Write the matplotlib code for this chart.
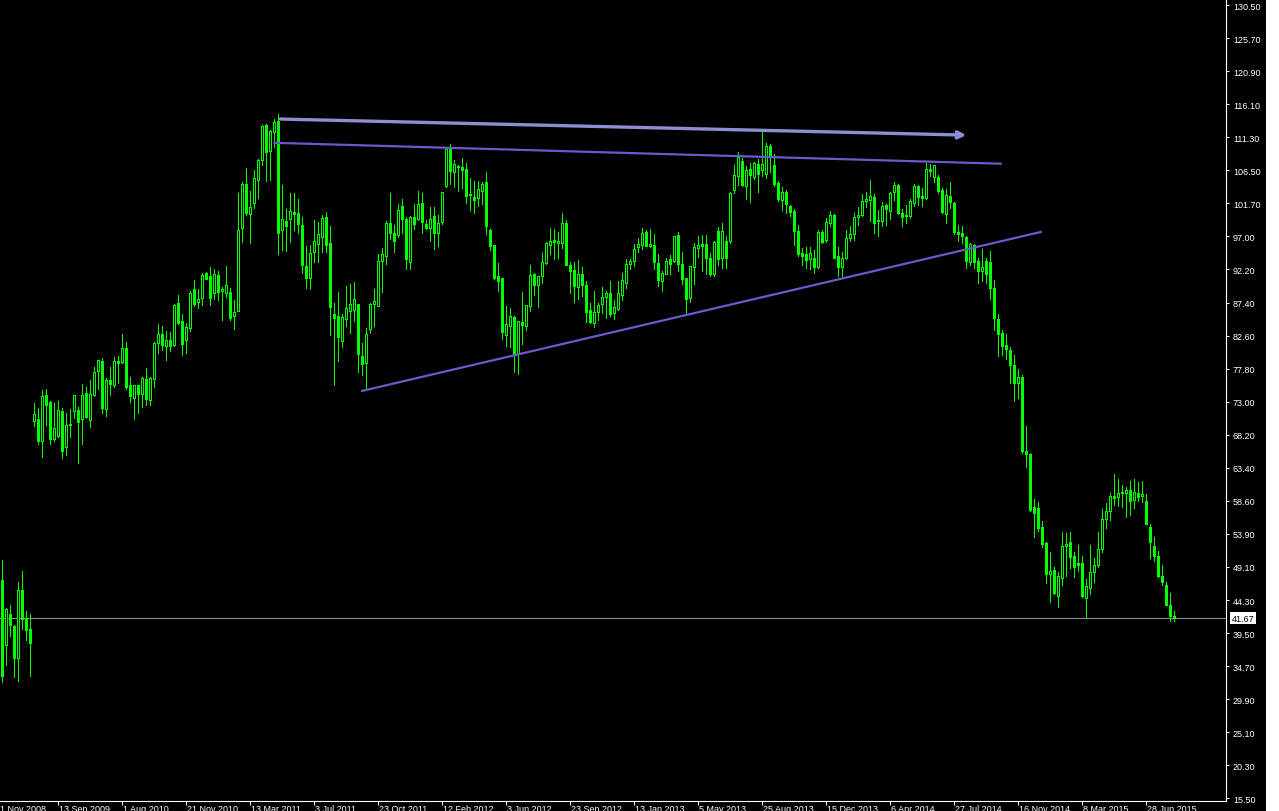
import matplotlib
matplotlib.use("Agg")
import matplotlib.pyplot as plt
from matplotlib.patches import Rectangle
import numpy as np

plt.rcParams['font.family'] = ['Liberation Sans', 'DejaVu Sans']

# ---------------- data (weekly OHLC) ----------------
opens = [47.1, 37.7, 42.3, 40.5, 35.8, 45.7, 41.6, 40.0,
 70.2, 70.5, 67.3, 73.9, 72.9, 67.6, 68.0, 71.6, 66.4, 69.6, 71.6, 71.8,
 70.5, 74.2, 70.3, 73.9, 77.4, 78.9, 71.9, 76.1, 75.4, 78.9,
 78.7, 80.8, 75.4, 73.6, 75.4, 74.1, 76.3, 73.2, 76.3, 81.5,
 82.8, 81.1, 81.9, 81.2, 87.3, 84.7, 81.9, 83.7, 89.3, 87.4,
 88.0, 91.6, 91.2, 88.7, 91.3, 89.0, 88.7, 88.9, 85.4, 86.1,
 98.2, 104.5, 100.2, 101.8, 105.1, 108.0, 113.1, 109.3, 112.1, 113.7,
 97.9, 99.2, 99.5, 100.5, 100.3, 98.6, 92.7, 90.9, 94.7, 95.8,
 96.9, 99.8, 96.0, 85.7, 85.4, 81.8, 85.0, 86.1, 86.3, 87.1,
 79.6, 78.6, 83.5, 87.1, 86.9, 93.4, 94.1, 98.9, 97.4, 97.1,
 101.3, 99.5, 93.2, 99.8, 99.5, 101.8, 98.7, 98.2, 99.9, 97.4,
 99.0, 104.3, 109.6, 106.3, 107.2, 107.0, 106.7, 102.9, 102.7, 102.5,
 103.5, 104.8, 97.9, 95.7, 91.2, 90.9, 82.6, 84.0, 85.3, 79.9,
 84.5, 84.0, 86.9, 91.5, 89.9, 91.2, 93.1, 95.7, 96.4, 96.0,
 96.0, 98.9, 92.8, 92.1, 89.6, 91.5, 89.9, 86.3, 84.4, 86.0,
 87.1, 88.2, 88.7, 85.8, 86.4, 88.4, 90.2, 93.0, 93.4, 95.4,
 95.7, 97.6, 95.6, 95.7, 93.1, 90.5, 91.5, 93.7, 93.4, 97.1,
 93.0, 90.9, 88.0, 92.5, 95.3, 95.8, 95.8, 93.8, 91.5, 97.7,
 93.8, 96.3, 96.3, 103.7, 105.7, 107.9, 104.3, 106.7, 105.6, 107.4,
 106.6, 106.0, 110.1, 107.3, 104.7, 102.2, 103.4, 101.3, 100.6, 97.7,
 94.5, 94.4, 93.7, 93.9, 92.5, 97.6, 96.4, 98.9, 100.1, 94.1,
 92.5, 93.8, 96.7, 97.3, 99.8, 100.1, 102.1, 102.2, 102.7, 99.3,
 99.2, 101.5, 100.6, 103.4, 104.4, 100.3, 99.9, 99.9, 101.8, 104.3,
 102.8, 102.5, 106.7, 105.6, 105.6, 103.7, 100.2, 102.8, 101.8, 97.6,
 97.4, 96.9, 93.2, 95.7, 93.4, 91.9, 93.4, 93.2, 89.5, 85.0,
 82.9, 81.2, 80.5, 78.3, 75.7, 76.6, 65.8, 65.4, 57.7, 57.6,
 54.8, 52.5, 48.0, 48.6, 44.9, 47.4, 52.1, 52.6, 50.7, 49.6,
 49.6, 44.5, 46.0, 48.3, 49.3, 51.6, 56.0, 57.1, 59.3, 59.2,
 59.7, 59.7, 60.2, 58.7, 59.7, 59.3, 58.6, 54.8, 52.1, 50.6,
 47.8, 46.5, 43.5, 42.0]

closes = [33.2, 42.9, 40.6, 35.8, 45.7, 41.5, 39.9, 38.0,
 71.2, 67.3, 73.8, 72.5, 67.6, 69.2, 71.8, 65.8, 69.6, 69.7, 73.9, 70.0,
 73.9, 70.8, 74.1, 77.3, 79.0, 72.1, 76.1, 75.5, 78.9, 78.6,
 80.8, 75.2, 73.8, 75.4, 74.1, 76.4, 73.4, 76.4, 81.5, 82.8,
 81.2, 81.9, 81.1, 87.0, 84.4, 81.4, 83.8, 88.7, 87.1, 87.9,
 91.3, 90.8, 88.0, 91.5, 88.9, 89.3, 89.9, 85.1, 86.0, 97.9,
 104.5, 100.3, 101.2, 105.4, 108.0, 113.0, 109.2, 112.2, 113.5, 97.4,
 99.5, 98.5, 100.6, 100.2, 98.7, 92.8, 90.9, 94.5, 96.3, 97.3,
 99.6, 95.7, 86.7, 85.1, 82.4, 85.3, 86.6, 87.1, 87.9, 79.9,
 78.4, 82.8, 87.1, 87.6, 93.4, 94.4, 98.9, 97.4, 96.3, 100.8,
 99.5, 93.7, 99.8, 98.7, 101.6, 99.0, 98.2, 99.5, 97.4, 98.9,
 103.4, 109.6, 106.4, 107.4, 107.0, 106.6, 102.8, 103.1, 102.2, 103.8,
 104.5, 98.5, 95.6, 90.9, 90.5, 83.1, 84.2, 85.4, 79.9, 84.7,
 84.1, 87.0, 91.3, 89.9, 91.2, 93.2, 96.0, 96.3, 96.1, 96.3,
 98.9, 92.8, 91.9, 89.8, 91.5, 89.9, 86.0, 84.5, 86.0, 87.0,
 88.2, 88.7, 85.7, 86.7, 88.7, 90.6, 93.0, 93.4, 95.1, 95.8,
 97.4, 95.6, 95.8, 93.2, 90.6, 91.6, 93.4, 93.0, 97.0, 93.0,
 90.8, 87.9, 92.6, 95.4, 95.7, 95.6, 93.8, 91.5, 96.1, 93.7,
 97.7, 93.8, 103.2, 105.8, 108.5, 104.4, 106.6, 105.8, 107.6, 106.0,
 107.4, 110.1, 108.6, 104.5, 102.4, 103.4, 101.6, 100.5, 97.7, 94.4,
 94.1, 93.5, 94.5, 92.5, 97.6, 96.1, 99.0, 100.1, 93.9, 92.5,
 93.9, 96.7, 97.3, 99.8, 100.1, 102.1, 102.4, 102.8, 98.9, 99.2,
 101.3, 100.9, 103.2, 104.4, 100.3, 99.8, 100.1, 102.1, 104.3, 102.7,
 102.5, 106.7, 106.4, 107.3, 103.5, 100.5, 103.0, 101.9, 97.6, 97.3,
 97.0, 93.4, 95.8, 93.2, 91.9, 92.5, 91.5, 89.5, 85.1, 82.8,
 81.1, 80.6, 78.3, 75.7, 76.6, 65.8, 65.4, 57.3, 56.8, 54.7,
 52.4, 48.0, 48.4, 45.2, 47.7, 52.1, 52.4, 50.5, 49.1, 49.3,
 44.9, 46.3, 48.3, 49.3, 51.6, 56.0, 57.1, 59.3, 59.0, 59.7,
 59.9, 60.2, 58.6, 59.9, 59.2, 59.6, 55.3, 52.6, 50.7, 47.8,
 46.8, 43.6, 41.9, 41.67]

highs = [50.0, 43.1, 43.5, 40.7, 46.8, 48.4, 42.6, 42.3,
 72.8, 72.1, 74.7, 74.8, 73.1, 72.8, 73.1, 72.1, 71.3, 71.9, 73.9, 72.3,
 75.5, 75.2, 76.1, 78.0, 79.0, 79.3, 76.4, 78.0, 79.5, 79.6,
 82.8, 81.6, 76.6, 75.4, 75.4, 76.6, 77.9, 76.6, 81.6, 84.2,
 84.0, 83.2, 83.1, 87.1, 88.4, 85.7, 84.4, 89.0, 90.6, 89.3,
 91.6, 91.8, 92.5, 92.2, 91.9, 89.6, 92.6, 89.5, 87.7, 103.2,
 104.8, 106.9, 103.5, 106.6, 108.2, 113.1, 113.2, 112.4, 114.0, 114.7,
 104.4, 100.9, 103.2, 103.2, 102.4, 99.8, 95.5, 95.7, 99.3, 99.0,
 100.0, 100.5, 98.5, 87.3, 88.9, 85.7, 89.8, 90.0, 90.3, 87.1,
 81.5, 83.7, 87.3, 89.3, 94.4, 95.3, 99.2, 103.2, 98.6, 101.6,
 102.4, 99.8, 99.9, 101.6, 103.5, 103.2, 99.3, 101.2, 101.2, 100.0,
 103.4, 109.6, 110.3, 108.0, 107.3, 108.3, 107.6, 105.4, 105.0, 105.0,
 104.8, 106.3, 98.0, 95.7, 93.1, 90.9, 86.9, 86.6, 85.4, 84.7,
 88.9, 87.0, 92.8, 91.6, 91.2, 94.5, 96.1, 98.2, 98.0, 97.6,
 100.3, 99.3, 93.2, 93.2, 93.5, 92.5, 90.5, 87.3, 89.0, 87.3,
 89.6, 89.0, 90.5, 87.7, 90.5, 91.6, 93.7, 93.7, 95.8, 96.7,
 98.2, 97.9, 98.0, 97.3, 94.4, 91.9, 93.8, 94.2, 97.0, 97.6,
 94.7, 90.9, 92.6, 96.0, 97.0, 97.1, 97.1, 94.5, 96.3, 98.3,
 98.9, 97.0, 103.4, 107.3, 109.2, 108.3, 107.2, 107.6, 107.7, 108.2,
 112.1, 110.5, 110.3, 108.9, 105.0, 104.1, 103.7, 101.5, 100.9, 98.6,
 95.3, 95.4, 95.4, 95.0, 97.9, 97.9, 99.6, 100.6, 100.2, 95.4,
 94.7, 97.9, 98.5, 100.3, 101.2, 103.1, 103.4, 105.1, 103.1, 100.8,
 101.9, 101.6, 103.4, 104.8, 104.5, 100.9, 101.5, 102.4, 104.5, 104.4,
 104.0, 107.6, 107.4, 107.3, 105.8, 104.0, 103.8, 104.8, 101.9, 98.6,
 98.5, 97.0, 96.0, 95.8, 93.8, 95.1, 93.8, 94.8, 90.6, 85.7,
 83.4, 82.8, 80.9, 79.7, 77.7, 76.8, 69.5, 65.5, 58.9, 58.4,
 55.7, 52.6, 51.2, 49.0, 48.3, 54.1, 53.9, 54.1, 51.2, 52.3,
 50.7, 47.3, 52.3, 50.3, 54.1, 57.4, 58.3, 59.7, 62.5, 61.8,
 60.9, 60.6, 61.5, 61.8, 61.3, 61.5, 59.6, 55.3, 53.4, 51.3,
 49.4, 46.8, 45.2, 42.6]

lows = [32.3, 34.9, 39.1, 33.1, 32.5, 40.0, 38.4, 33.3,
 69.5, 66.8, 65.0, 69.6, 66.8, 67.3, 67.9, 64.8, 65.3, 67.9, 70.6, 64.1,
 66.8, 70.6, 69.3, 73.8, 74.9, 71.3, 70.9, 73.9, 75.2, 75.7,
 78.6, 74.9, 72.9, 70.5, 71.3, 72.3, 72.5, 72.5, 75.2, 80.0,
 80.5, 79.0, 80.3, 81.1, 84.2, 79.7, 80.0, 83.2, 86.9, 86.6,
 87.0, 90.8, 87.0, 87.9, 87.7, 84.8, 88.2, 84.8, 83.5, 86.1,
 96.1, 100.0, 96.0, 101.1, 102.5, 107.3, 105.0, 105.1, 109.9, 94.4,
 95.0, 94.8, 96.1, 97.9, 97.4, 91.6, 89.5, 89.3, 93.2, 93.2,
 94.7, 94.7, 82.7, 75.4, 78.9, 80.9, 84.0, 82.9, 84.7, 77.3,
 76.8, 74.7, 82.9, 84.0, 86.9, 88.9, 93.0, 96.6, 94.7, 96.9,
 97.4, 92.2, 92.2, 98.0, 99.3, 97.4, 98.0, 96.3, 95.1, 95.6,
 98.7, 104.1, 104.5, 104.1, 103.5, 104.0, 101.8, 100.8, 100.3, 101.4,
 101.6, 97.3, 95.0, 90.8, 89.0, 82.1, 81.1, 80.9, 77.3, 77.0,
 81.4, 83.4, 86.1, 88.5, 86.7, 90.2, 93.0, 94.4, 93.7, 93.8,
 95.3, 92.8, 88.7, 87.4, 87.9, 88.3, 84.5, 84.4, 83.8, 84.8,
 85.8, 85.1, 85.4, 85.0, 86.3, 87.7, 89.5, 92.2, 92.6, 94.7,
 95.1, 95.6, 95.4, 92.2, 89.8, 89.0, 91.5, 91.5, 93.2, 91.9,
 90.0, 85.6, 87.4, 90.0, 94.0, 91.9, 91.5, 91.2, 91.2, 92.8,
 92.4, 92.4, 96.0, 103.2, 104.4, 104.3, 102.4, 101.9, 105.3, 103.4,
 105.7, 105.4, 106.3, 104.3, 102.1, 100.8, 100.3, 99.9, 95.7, 94.1,
 92.8, 92.4, 92.2, 91.6, 92.4, 96.0, 96.1, 98.5, 93.8, 91.2,
 91.2, 93.7, 96.3, 96.4, 98.6, 99.9, 101.2, 99.2, 97.4, 97.0,
 98.5, 98.6, 99.5, 102.2, 100.2, 98.5, 98.9, 99.6, 101.4, 101.5,
 101.4, 102.4, 105.7, 104.8, 103.2, 100.3, 98.9, 101.1, 97.3, 96.3,
 96.0, 92.4, 92.8, 92.4, 90.2, 90.5, 90.2, 87.9, 83.4, 79.6,
 79.7, 79.2, 75.7, 73.1, 73.6, 65.5, 63.5, 57.1, 53.4, 54.2,
 51.9, 46.7, 43.9, 45.1, 43.3, 46.4, 47.8, 48.9, 47.6, 48.4,
 44.7, 41.8, 45.1, 46.8, 49.1, 51.2, 54.7, 55.8, 58.0, 57.9,
 57.7, 56.3, 56.6, 57.6, 58.6, 58.4, 55.3, 50.3, 49.9, 47.6,
 46.5, 43.5, 41.2, 41.2]

date_labels = ["21 Nov 2008", "13 Sep 2009", "1 Aug 2010", "21 Nov 2010",
               "13 Mar 2011", "3 Jul 2011", "23 Oct 2011", "12 Feb 2012",
               "3 Jun 2012", "23 Sep 2012", "13 Jan 2013", "5 May 2013",
               "25 Aug 2013", "15 Dec 2013", "6 Apr 2014", "27 Jul 2014",
               "16 Nov 2014", "8 Mar 2015", "28 Jun 2015"]

price_labels = ["130.50", "125.70", "120.90", "116.10", "111.30", "106.50",
                "101.70", "97.00", "92.20", "87.40", "82.60", "77.80",
                "73.00", "68.20", "63.40", "58.60", "53.90", "49.10",
                "44.30", "39.50", "34.70", "29.90", "25.10", "20.30", "15.50"]

last_price = 41.67

# trend lines: (bar index, price) endpoints
arrow_line = [(69.7, 113.97), (241.2, 111.64)]
upper_line = [(68.0, 110.53), (250.1, 107.49)]
lower_line = [(89.9, 74.53), (260.1, 97.64)]

# ---------------- figure ----------------
W, H, DPI = 1279, 812, 100
fig = plt.figure(figsize=(W / DPI, H / DPI), dpi=DPI, facecolor='black')

# white strip at the far right
fig.patches.append(Rectangle((1266 / W, 0), 13 / W, 1, transform=fig.transFigure,
                             facecolor='white', edgecolor='none', zorder=0))

ax_l, ax_r, ax_top, ax_bot = 0, 1226, 0, 802   # pixel box of the plot area
ax = fig.add_axes([ax_l / W, (H - ax_bot) / H, (ax_r - ax_l) / W, (ax_bot - ax_top) / H])
ax.set_facecolor('black')

LIME = '#00ff00'
n = len(opens)
x = np.arange(n)
o = np.array(opens); c = np.array(closes)
hi = np.array(highs); lo = np.array(lows)

ax.vlines(x, lo, hi, color=LIME, lw=0.72, antialiased=False, zorder=2)
bottoms = np.minimum(o, c)
heights = np.maximum(np.abs(c - o), 0.02)
faces = ['black' if cc > oo else LIME for oo, cc in zip(o, c)]
ax.bar(x, heights, bottom=bottoms, width=0.5, color=faces, edgecolor=LIME,
       linewidth=0.72, antialiased=False, zorder=3)

# horizontal current-price line
ax.axhline(last_price, color='#8c8c8c', lw=0.8, zorder=1)

# trend lines
(x1, y1), (x2, y2) = upper_line
ax.plot([x1, x2], [y1, y2], color='#6a5acd', lw=1.6, zorder=4, solid_capstyle='butt')
(x1, y1), (x2, y2) = lower_line
ax.plot([x1, x2], [y1, y2], color='#6a5acd', lw=1.6, zorder=4, solid_capstyle='butt')
(x1, y1), (x2, y2) = arrow_line
ax.annotate('', xy=(x2, y2), xytext=(x1, y1),
            arrowprops=dict(arrowstyle='-|>', color='#8e8ed2', lw=2.4,
                            mutation_scale=11, shrinkA=0, shrinkB=0), zorder=5)

# axis ranges: 4 px per bar, first bar centre at x = 1.5 px
px_per_bar = 4.0
x0 = -1.5 / px_per_bar
ax.set_xlim(x0, x0 + (ax_r - ax_l) / px_per_bar)
px_per_unit = (799.4 - 6.0) / (130.5 - 15.5)
ymax = 130.5 + 6.0 / px_per_unit
ax.set_ylim(ymax - (ax_bot - ax_top) / px_per_unit, ymax)

for s in ['top', 'left']:
    ax.spines[s].set_visible(False)
for s in ['right', 'bottom']:
    ax.spines[s].set_color('white')
    ax.spines[s].set_linewidth(0.8)

# y ticks on the right
ax.yaxis.tick_right()
ax.set_yticks(np.linspace(130.5, 15.5, len(price_labels)))
ax.set_yticklabels(price_labels)
ax.tick_params(axis='y', colors='white', direction='out', length=2.5, width=0.7,
               pad=2.5, labelsize=6.5, labelcolor='white')

# x ticks: every 16 bars starting 2 bars before the first bar
tick_bars = [-2 + 16 * k for k in range(len(date_labels))]
vis = [b for b in tick_bars if b >= 0]
ax.set_xticks(vis)
ax.set_xticklabels([])
ax.tick_params(axis='x', colors='white', direction='out', length=3, width=0.7)
for b, lab in zip(tick_bars, date_labels):
    ax.text(b + 0.3, -0.004, lab, transform=ax.get_xaxis_transform(), ha='left', va='top',
            color='white', fontsize=6.5, clip_on=False)

# current price label box
fig.text(1232 / W, 1 - 619 / H, f"{last_price:.2f}", ha='left', va='center', color='black',
         fontsize=6.5, bbox=dict(facecolor='white', edgecolor='none', pad=1.2))

fig.savefig('out.png', dpi=DPI, facecolor='black')
